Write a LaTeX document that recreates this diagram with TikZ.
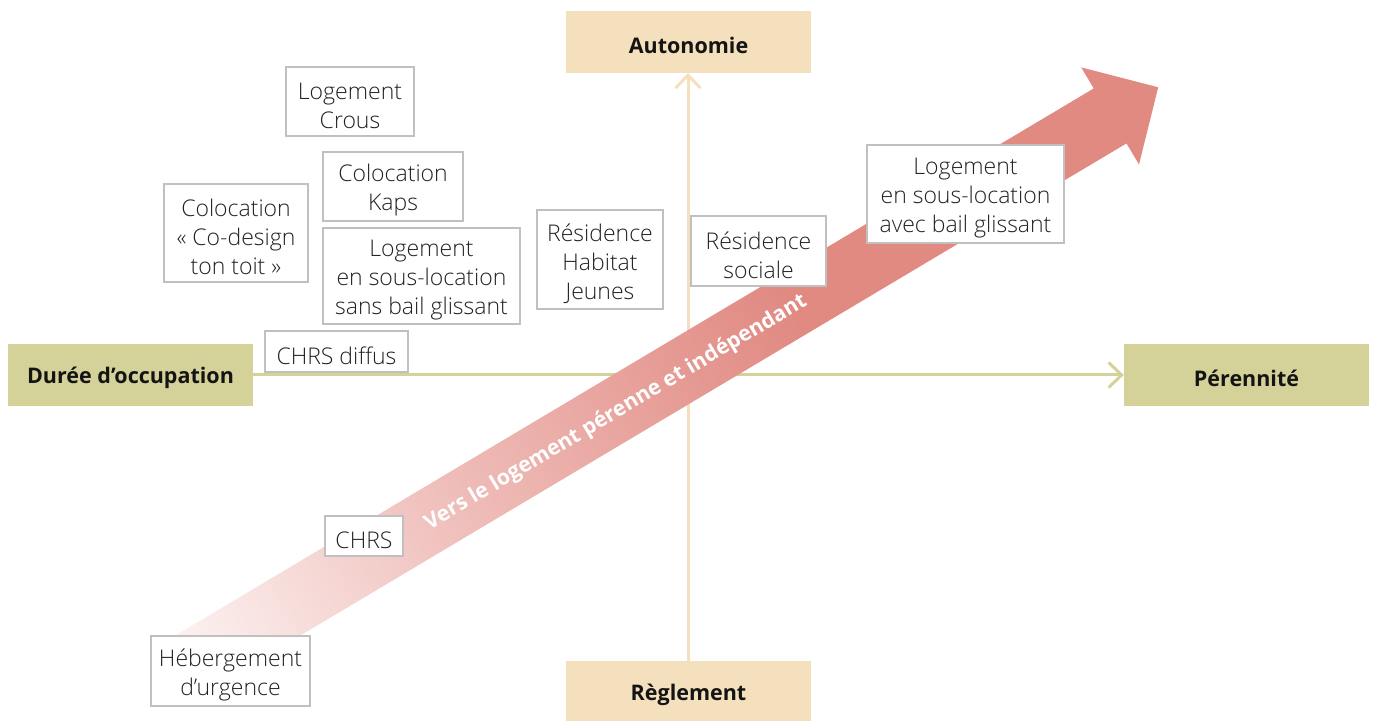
\documentclass[tikz,border=0pt]{standalone}
\usepackage{fontspec}
\IfFontExistsTF{Open Sans Light}{\setmainfont{Open Sans Light}}{\setmainfont{Open Sans}}
\newfontfamily\labfont{Open Sans}
\usetikzlibrary{arrows.meta}
\definecolor{beige}{RGB}{245,224,189}
\definecolor{olive}{RGB}{213,210,153}
\definecolor{boxgray}{RGB}{192,192,192}
\definecolor{textc}{RGB}{34,34,34}
\definecolor{arrpale}{RGB}{252,242,241}
\definecolor{arrmida}{RGB}{240,194,190}
\definecolor{arrmidb}{RGB}{230,155,149}
\definecolor{arrfull}{RGB}{224,138,130}
\pgfdeclarehorizontalshading{arrowshade}{100bp}{color(0bp)=(arrpale); color(25bp)=(arrpale); color(37.5bp)=(arrmida); color(50bp)=(arrmidb); color(56bp)=(arrfull); color(100bp)=(arrfull)}
\tikzset{
  boxframe/.style 2 args={draw=boxgray, line width=1.2pt, fill=white, inner sep=0pt,
    minimum width=#1, minimum height=#2},
  boxtext/.style={align=center, inner sep=0pt, text=textc, font=\fontsize{23}{29}\selectfont},
  axbox/.style={inner sep=0pt, minimum width=245pt, minimum height=62pt},
  axtext/.style={inner sep=0pt, font=\labfont\bfseries\fontsize{21.5}{24}\selectfont, text=black!92},
  axline/.style={line width=3pt, -{Straight Barb[length=13pt,width=25pt]}},
}
\newcommand\bx[5]{%
  \node[boxframe={#3}{#4}] (#1) at (#2) {};
  \node[boxtext] (#1-t) at ([yshift=-4pt]#1.center) {#5};}
\newcommand\ax[4]{%
  \node[axbox, fill=#3] (#1) at (#2) {};
  \node[axtext] (#1-t) at ([yshift=-3pt]#1.center) {#4};}
\begin{document}
\begin{tikzpicture}[x=1pt,y=1pt]
\useasboundingbox (0,0) rectangle (1375,720);
% axis labels
\ax{auto}{688.5,678}{beige}{Autonomie}
\ax{regl}{688.5,28}{beige}{Règlement}
\ax{duree}{130.5,345}{olive}{Durée d’occupation}
\ax{pere}{1246.5,345}{olive}{Pérennité}
% axes
\draw[axline, olive] (duree.east) -- (pere.west);
\draw[axline, beige] (688,59) coordinate (vbot) -- (688,647) coordinate (vtop);
% big arrow
\begin{scope}[transform canvas={shift={(190,56)}, rotate=30.78}]
  \shade[shading=arrowshade] (0,-32) -- (1071,-32) -- (1071,-56.5) -- (1127,0)
     -- (1071,56.5) -- (1071,32) -- (0,32) -- cycle;
  \node[text=white, font=\labfont\bfseries\fontsize{21.3}{24}\selectfont] (vers) at (494.7,-2)
     {Vers le logement pérenne et indépendant};
\end{scope}
% boxes
\bx{crous}{350,618.5}{128pt}{69pt}{Logement\\Crous}
\bx{kaps}{393,533.5}{140pt}{69pt}{Colocation\\Kaps}
\bx{codesign}{236,487}{144pt}{98pt}{Colocation\\« Co-design\\ton toit »}
\bx{sans}{421.5,444}{197pt}{96pt}{Logement\\en sous-location\\sans bail glissant}
\bx{rhj}{600,460.5}{126pt}{99pt}{Résidence\\Habitat\\Jeunes}
\bx{rsoc}{758.5,469}{135pt}{70pt}{Résidence\\sociale}
\bx{avec}{965.5,526}{197pt}{98pt}{Logement\\en sous-location\\avec bail glissant}
\bx{chrsd}{336.5,368.5}{143pt}{41pt}{CHRS diffus}
\bx{chrs}{364,184}{78pt}{40pt}{CHRS}
\bx{heb}{230.5,49}{159pt}{70pt}{Hébergement\\d’urgence}
\end{tikzpicture}
\end{document}
